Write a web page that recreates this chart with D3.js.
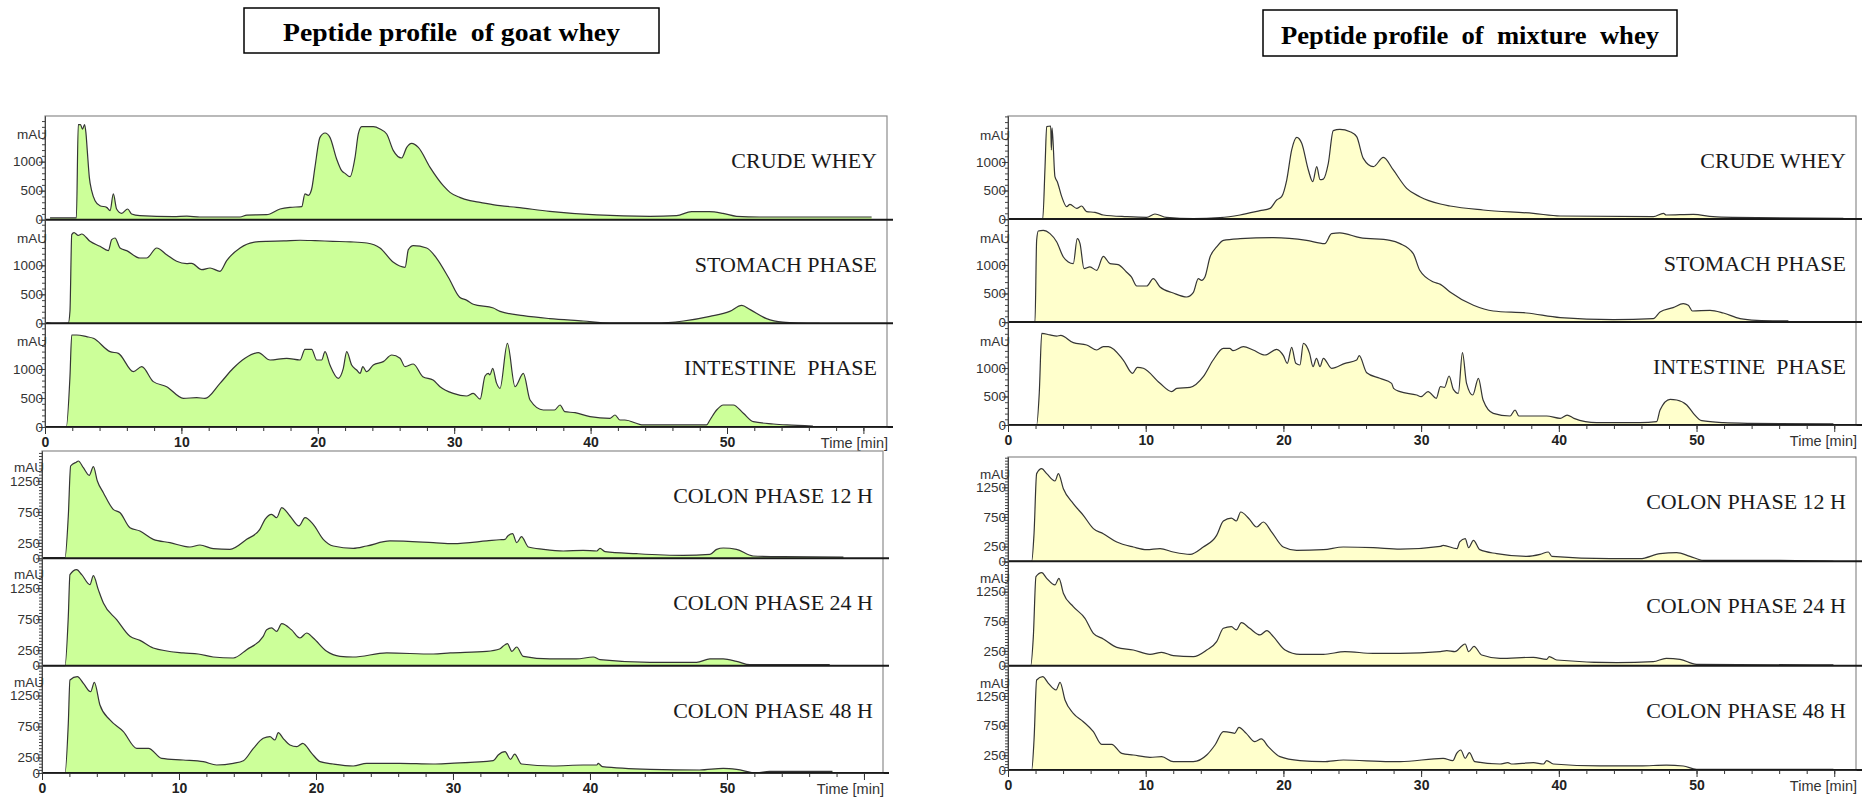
<!DOCTYPE html>
<html>
<head>
<meta charset="utf-8">
<script src="https://cdn.jsdelivr.net/npm/d3@7"></script>
<style>
body{margin:0;background:#fff}
svg{display:block}
</style>
</head>
<body>
<svg id="chart"></svg>
<script>
//titles, panel names and tick values
var titles = ["Peptide profile  of goat whey", "Peptide profile  of  mixture  whey"]
var phaseNames = ["CRUDE WHEY", "STOMACH PHASE", "INTESTINE  PHASE",
                  "COLON PHASE 12 H", "COLON PHASE 24 H", "COLON PHASE 48 H"]
var upperTicks = [0, 500, 1000]
var lowerTicks = [0, 250, 750, 1250]
var timeTicks = [0, 10, 20, 30, 40, 50]

//chromatograms, [time (min), absorbance (mAU)]
var goatCrude = [[0.37,30],[2.3,30],[2.44,1638],[2.6,1640],[2.75,1560],[2.9,1640],[3.0,1500],[3.1,1190],[3.25,730],[3.42,500],[3.67,328],[4.03,241],[4.52,212],[4.77,155],[5.01,443],[5.25,184],[5.62,109],[6.06,184],[6.35,98],[6.96,69],[9.4,52],[10.4,60],[11.36,46],[14.3,46],[14.8,80],[16.25,86],[17.23,184],[17.96,213],[18.82,224],[19.06,443],[19.31,420],[19.55,529],[19.79,902],[20.16,1419],[20.53,1494],[20.89,1419],[21.38,1046],[21.75,845],[22.0,798],[22.36,741],[22.73,1074],[22.97,1477],[23.22,1603],[24.07,1603],[24.56,1563],[25.05,1477],[25.54,1190],[26.15,1063],[26.52,1247],[26.88,1316],[27.37,1247],[28.23,902],[29.2,586],[29.69,471],[30.4,384],[31.16,328],[31.9,298],[33.36,241],[34.58,212],[37.0,143],[40.45,81],[44.36,58],[46.3,69],[47.4,138],[48.7,138],[49.7,109],[50.7,58],[52.4,46],[60.6,46]]
var goatStomach = [[0.12,12],[0.5,0],[1.71,5],[1.83,207],[1.96,1529],[2.13,1563],[2.44,1517],[2.69,1540],[3.3,1414],[4.03,1328],[4.64,1253],[4.89,1443],[5.13,1471],[5.5,1299],[5.99,1253],[6.96,1126],[7.45,1126],[8.19,1299],[8.92,1184],[9.65,1069],[10.39,1029],[10.75,1035],[11.49,926],[12.1,954],[12.83,897],[13.32,1081],[14.3,1299],[15.27,1397],[16.25,1414],[17.5,1420],[18.7,1432],[19.8,1425],[21.1,1414],[22.4,1405],[23.6,1385],[24.56,1299],[25.54,1052],[26.4,966],[26.64,1270],[27.0,1339],[27.98,1299],[28.7,1126],[29.6,781],[30.4,450],[30.9,400],[31.4,330],[32.87,264],[33.36,207],[35.07,132],[37.0,81],[39.46,40],[41.4,5],[44.7,5],[46.8,40],[48.75,121],[50.2,207],[51.08,310],[51.7,236],[52.9,81],[54.1,20],[55.35,5],[56.8,0]]
var goatIntestine = [[0.12,0],[1.56,0],[1.83,868],[1.96,1586],[2.32,1586],[3.05,1557],[3.54,1529],[4.77,1299],[5.38,1270],[6.48,954],[7.09,1040],[7.94,782],[8.92,695],[10.14,494],[11.12,506],[11.73,494],[12.83,753],[13.8,1012],[14.66,1184],[15.64,1282],[16.5,1155],[17.72,1184],[18.7,1155],[19.06,1339],[19.55,1339],[19.92,1155],[20.28,1155],[20.53,1299],[20.89,1069],[21.5,839],[21.87,1012],[22.12,1299],[22.48,1069],[22.85,983],[23.1,925],[23.3,1040],[23.58,954],[24.07,1069],[24.8,1127],[25.42,1241],[26.03,1184],[26.4,1040],[27.0,1086],[27.7,868],[28.45,810],[28.96,695],[29.93,580],[30.9,534],[31.4,580],[31.9,480],[32.26,880],[32.5,925],[32.62,900],[32.82,1011],[33.1,760],[33.36,667],[33.9,1443],[34.46,695],[35.07,925],[35.56,465],[36.53,293],[37.35,293],[37.76,379],[38.1,264],[38.86,247],[39.96,178],[41.43,150],[41.79,207],[42.15,121],[42.5,121],[43.87,35],[48.5,35],[48.75,121],[49.24,293],[49.73,379],[50.46,379],[51.2,236],[51.93,92],[53.4,52],[54.4,35],[56.3,15]]
var goatColon12 = [[0.1,10],[1.68,10],[1.92,683],[2.09,1489],[2.53,1554],[2.65,1570],[3.02,1462],[3.45,1339],[3.75,1478],[4.04,1247],[4.48,1059],[5.2,790],[5.7,736],[6.42,495],[7.15,441],[8.12,306],[9.34,253],[10.8,183],[11.53,215],[12.5,156],[13.72,145],[14.94,306],[15.9,468],[16.28,629],[16.76,710],[17.13,656],[17.5,817],[18.1,683],[18.76,522],[19.2,656],[19.8,548],[20.53,306],[21.26,199],[22.72,161],[23.7,199],[25.4,280],[28.56,253],[30.0,237],[32.46,280],[33.4,300],[33.8,306],[34.0,360],[34.35,398],[34.65,253],[35.0,349],[35.5,183],[36.6,145],[38.05,118],[39.5,129],[40.5,118],[40.73,161],[41.1,108],[43.4,75],[46.8,48],[48.76,64],[49.25,145],[49.73,167],[50.7,145],[51.9,38],[54.1,27],[58.5,21]]
var goatColon24 = [[0.1,0],[1.68,0],[1.92,795],[2.04,1468],[2.53,1548],[2.9,1468],[3.5,1306],[3.75,1452],[4.11,1226],[4.48,1011],[5.45,742],[6.42,473],[7.15,408],[8.12,285],[10.3,205],[11.4,188],[12.5,140],[13.96,124],[14.94,258],[16.15,473],[16.4,581],[16.76,608],[17.13,554],[17.5,677],[18.2,581],[18.83,446],[19.32,527],[19.8,446],[20.78,231],[21.75,151],[22.7,140],[25.16,205],[28.56,188],[29.8,205],[32.46,231],[33.4,269],[33.65,312],[33.97,355],[34.3,231],[34.65,301],[35.13,151],[37.08,108],[39.0,108],[40.24,140],[40.73,97],[44.38,54],[47.78,54],[48.76,108],[49.73,108],[50.7,70],[51.68,16],[57.5,16]]
var goatColon48 = [[0.1,0],[1.68,0],[1.92,801],[2.04,1500],[2.58,1553],[3.02,1446],[3.55,1311],[3.82,1462],[4.23,1097],[4.96,855],[5.94,667],[6.91,398],[7.77,398],[8.74,236],[10.3,210],[11.78,183],[12.75,129],[13.96,156],[14.7,199],[15.43,398],[16.15,559],[16.64,586],[17.0,532],[17.25,651],[17.6,559],[18.1,452],[18.6,425],[19.03,479],[19.69,317],[20.3,183],[21.26,145],[22.72,113],[23.7,156],[26.1,156],[28.56,145],[29.8,156],[32.94,199],[33.3,290],[33.8,344],[34.2,220],[34.5,306],[35.0,145],[37.3,113],[39.5,129],[40.5,129],[40.6,156],[40.9,102],[44.38,59],[48.0,48],[49.73,75],[50.7,59],[52.17,0],[53.1,27],[57.7,27]]

var mixCrude = [[0,0],[2.52,0],[2.69,918],[2.81,1620],[3.1,1632],[3.15,1211],[3.2,1600],[3.41,742],[3.58,655],[3.9,392],[4.26,216],[4.5,257],[4.99,187],[5.35,228],[5.71,129],[6.32,117],[6.92,70],[8.62,41],[10.06,29],[10.67,88],[11.5,29],[13.46,6],[15.4,23],[16.85,70],[18.3,146],[19.03,187],[19.51,333],[19.87,392],[20.24,684],[20.6,1211],[20.97,1433],[21.33,1328],[21.81,860],[22.13,655],[22.42,918],[22.66,690],[22.9,700],[23.26,977],[23.62,1550],[24.1,1574],[24.84,1532],[25.32,1444],[25.8,1064],[26.53,918],[27.26,1082],[27.98,860],[28.95,538],[29.9,392],[31.4,263],[32.1,228],[34.5,158],[38.15,99],[40.1,53],[46.86,41],[47.6,99],[47.8,70],[49.77,82],[51.2,41],[52.67,29],[60.66,12]]
var mixStomach = [[0,0],[1.96,0],[2.08,1433],[2.2,1597],[2.56,1608],[3.05,1550],[3.54,1404],[4.02,1140],[4.38,1053],[4.74,1024],[5.03,1462],[5.23,1375],[5.52,936],[5.95,966],[6.44,907],[6.92,1152],[7.41,1024],[8.0,1006],[8.6,877],[8.96,790],[9.35,632],[10.07,632],[10.55,760],[11.04,614],[12.0,509],[12.98,439],[13.45,514],[13.82,760],[14.06,731],[14.3,790],[14.67,1140],[15.15,1316],[15.64,1433],[16.85,1462],[19.27,1480],[21.69,1433],[23.0,1375],[23.5,1550],[24.1,1562],[25.56,1480],[27.74,1433],[28.47,1375],[29.43,1199],[29.9,907],[30.9,702],[31.4,660],[32.1,526],[33.8,293],[35.24,193],[37.67,158],[40.1,76],[43.96,41],[46.86,59],[47.35,176],[48.3,252],[49.04,322],[49.4,293],[49.7,193],[50.98,205],[51.95,158],[53.16,59],[54.37,29],[56.67,18]]
var mixIntestine = [[0,0],[2.08,0],[2.27,556],[2.45,1608],[3.05,1580],[3.54,1560],[3.83,1573],[4.74,1444],[5.71,1404],[6.44,1316],[6.92,1375],[7.29,1375],[8.37,1140],[9.05,907],[9.39,1012],[9.83,995],[11.04,731],[11.89,585],[12.25,643],[13.22,661],[14.18,848],[14.9,1140],[15.64,1345],[16.1,1345],[16.34,1304],[17.09,1375],[17.8,1316],[18.66,1228],[19.51,1328],[20.0,1216],[20.28,1082],[20.6,1363],[20.9,1082],[21.2,1053],[21.45,1433],[21.9,1257],[22.15,1024],[22.4,1170],[22.66,1024],[22.9,1170],[23.5,995],[24.47,1082],[25.32,1140],[25.5,1216],[26.05,918],[27.0,819],[27.86,731],[28.0,643],[28.47,585],[29.68,526],[30.0,497],[30.5,585],[31.1,468],[31.4,673],[31.7,661],[32.03,860],[32.34,626],[32.7,556],[33.0,1269],[33.3,731],[33.75,526],[34.16,819],[34.5,439],[35.24,205],[36.46,158],[36.82,263],[37.1,158],[39.12,158],[40.1,117],[40.6,175],[41.1,117],[42.75,41],[45.9,41],[47.1,59],[47.35,263],[48.08,450],[48.56,439],[49.29,351],[49.77,205],[50.38,76],[51.95,41],[53.9,29],[59.94,18]]
var mixColon12 = [[0,0],[1.72,0],[1.89,467],[2.08,1481],[2.45,1565],[2.81,1481],[3.41,1357],[3.66,1481],[4.02,1227],[4.74,974],[5.47,777],[6.2,552],[6.92,467],[7.9,327],[9.1,242],[10.07,197],[11.04,214],[12.0,158],[13.22,118],[14.18,242],[15.15,439],[15.64,681],[16.22,731],[16.58,681],[16.9,833],[17.5,720],[18.06,580],[18.54,664],[19.15,495],[19.99,242],[20.96,186],[22.9,197],[24.35,242],[26.53,231],[28.47,205],[31.4,253],[31.6,270],[32.6,214],[32.8,327],[33.2,383],[33.45,230],[33.8,355],[34.26,197],[35.49,130],[37.67,84],[38.64,118],[39.24,158],[39.5,84],[43.72,45],[45.9,45],[47.35,130],[48.56,146],[49.53,84],[50.5,17],[56.06,17],[59.94,0]]
var mixColon24 = [[0,0],[1.65,0],[1.84,490],[2.03,1503],[2.45,1571],[2.81,1475],[3.41,1363],[3.7,1475],[4.02,1223],[4.74,997],[5.59,800],[6.2,547],[6.92,451],[7.9,310],[9.1,265],[10.31,192],[11.16,225],[12.0,169],[13.46,152],[14.43,265],[15.15,405],[15.64,631],[16.22,659],[16.58,603],[16.95,726],[17.55,631],[18.3,519],[18.8,592],[19.27,490],[20.12,265],[21.2,192],[22.9,192],[24.47,237],[26.53,208],[28.47,208],[31.4,237],[31.86,254],[32.46,237],[32.95,333],[33.2,366],[33.45,237],[33.84,327],[34.4,180],[35.73,124],[38.15,141],[39.12,107],[39.3,152],[39.85,96],[44.2,51],[46.86,68],[47.8,124],[48.8,107],[50.0,23],[59.94,12]]
var mixColon48 = [[0,0],[1.72,0],[1.89,507],[2.08,1520],[2.52,1577],[2.93,1464],[3.49,1351],[3.78,1481],[4.14,1182],[4.74,957],[5.47,816],[6.2,647],[6.8,433],[7.53,433],[8.26,282],[9.1,253],[10.31,214],[11.16,225],[12.0,141],[13.46,141],[14.43,253],[15.03,422],[15.64,647],[16.22,631],[16.46,619],[16.77,721],[17.3,619],[17.92,479],[18.4,524],[18.9,394],[19.75,225],[21.2,158],[22.9,141],[24.35,169],[27.74,141],[28.47,141],[31.6,197],[32.3,158],[32.58,282],[32.88,338],[33.2,197],[33.5,293],[33.9,141],[35.73,101],[36.3,124],[36.55,101],[38.15,124],[38.88,101],[39.12,158],[39.6,101],[43.0,68],[45.9,68],[47.8,84],[49.04,68],[50.0,11],[59.94,11]]

var svg = d3.select("#chart")
            .attr("width", 1874)
            .attr("height", 797)

svg.append("rect")
   .attr("width", 1874)
   .attr("height", 797)
   .attr("fill", "#fff")

var sansFont = "Liberation Sans, Arial, sans-serif"
var serifFont = "Liberation Serif, Times New Roman, serif"

//boxed heading above each column
var drawTitle = function(text, box, baseline, size, len)
{
    svg.append("rect")
       .attr("x", box.x)
       .attr("y", box.y)
       .attr("width", box.w)
       .attr("height", box.h)
       .attr("fill", "#fff")
       .attr("stroke", "#000")
       .attr("stroke-width", 1.5)

    svg.append("text")
       .text(text)
       .attr("x", box.x + box.w / 2)
       .attr("y", baseline)
       .attr("text-anchor", "middle")
       .attr("font-family", serifFont)
       .attr("font-weight", "bold")
       .attr("font-size", size)
       .attr("textLength", len)
       .attr("lengthAdjust", "spacingAndGlyphs")
       .style("white-space", "pre")
       .attr("fill", "#000")
}

//one stack of three chromatograms sharing a time axis
var drawGroup = function(g)
{
    var xScale = d3.scaleLinear()
        .domain([0, g.tMax])
        .range([g.x0, g.x1])

    var panelH = (g.bottom - g.top) / 3
    var layer = svg.append("g")

    var scales = g.series.map(function(data, i)
    {
        return d3.scaleLinear()
            .domain([0, g.vMax])
            .range([g.top + (i + 1) * panelH, g.top + i * panelH])
    })

    //filled traces
    g.series.forEach(function(data, i)
    {
        var yScale = scales[i]
        var area = d3.area()
            .x(function(d) { return xScale(d[0]) })
            .y0(yScale(0))
            .y1(function(d) { return yScale(d[1]) })
            .curve(d3.curveMonotoneX)
        var line = d3.line()
            .x(function(d) { return xScale(d[0]) })
            .y(function(d) { return yScale(d[1]) })
            .curve(d3.curveMonotoneX)

        layer.append("path")
             .datum(data)
             .attr("d", area)
             .attr("fill", g.fill)

        layer.append("path")
             .datum(data)
             .attr("d", line)
             .attr("fill", "none")
             .attr("stroke", "#353535")
             .attr("stroke-width", 1.2)
             .attr("stroke-linejoin", "round")
    })

    //frame
    layer.append("rect")
         .attr("x", g.x0)
         .attr("y", g.top)
         .attr("width", g.x1 - g.x0)
         .attr("height", g.bottom - g.top)
         .attr("fill", "none")
         .attr("stroke", "#8c8c8c")
         .attr("stroke-width", 1.2)

    g.series.forEach(function(data, i)
    {
        var yScale = scales[i]

        //baseline of the panel
        layer.append("line")
             .attr("x1", g.x0)
             .attr("x2", g.x1 + 6)
             .attr("y1", yScale(0))
             .attr("y2", yScale(0))
             .attr("stroke", "#1a1a1a")
             .attr("stroke-width", 2)

        var minorAxis = d3.axisLeft(yScale)
            .tickValues(d3.range(0, g.vMax, g.minorStep))
            .tickSize(3)
            .tickSizeOuter(0)
            .tickFormat("")
        layer.append("g")
             .attr("transform", "translate(" + g.x0 + ",0)")
             .call(minorAxis)
             .call(function(s) { s.selectAll("line,path").attr("stroke", "#444") })

        var majorAxis = d3.axisLeft(yScale)
            .tickValues(g.ticks)
            .tickSize(6)
            .tickSizeOuter(0)
            .tickPadding(-4)
            .tickFormat(d3.format("d"))
        layer.append("g")
             .attr("transform", "translate(" + g.x0 + ",0)")
             .call(majorAxis)
             .call(function(s)
             {
                 s.selectAll("line,path").attr("stroke", "#444")
                 s.selectAll("text")
                  .attr("font-family", sansFont)
                  .attr("font-size", 13.5)
                  .attr("fill", "#333")
             })

        layer.append("text")
             .text("mAU")
             .attr("x", g.x0 + 2)
             .attr("y", yScale(1470))
             .attr("dy", "0.35em")
             .attr("text-anchor", "end")
             .attr("font-family", sansFont)
             .attr("font-size", 13.5)
             .attr("fill", "#333")

        layer.append("text")
             .text(g.names[i])
             .attr("x", g.x1 - 10)
             .attr("y", g.top + i * panelH + 52)
             .attr("text-anchor", "end")
             .attr("font-family", serifFont)
             .attr("font-size", 22)
             .style("white-space", "pre")
             .attr("fill", "#1a1a1a")
    })

    //time axis under the last panel
    var xMinor = d3.axisBottom(xScale)
        .tickValues(d3.range(0, 61, 2))
        .tickSize(4)
        .tickSizeOuter(0)
        .tickFormat("")
    layer.append("g")
         .attr("transform", "translate(0," + g.bottom + ")")
         .call(xMinor)
         .call(function(s) { s.selectAll("line,path").attr("stroke", "#333") })

    var xMajor = d3.axisBottom(xScale)
        .tickValues(d3.range(0, 61, 10))
        .tickSize(7)
        .tickSizeOuter(0)
        .tickPadding(3)
        .tickFormat(function(d) { return timeTicks.indexOf(d) >= 0 ? d : "" })
    layer.append("g")
         .attr("transform", "translate(0," + g.bottom + ")")
         .call(xMajor)
         .call(function(s)
         {
             s.selectAll("line,path").attr("stroke", "#333")
             s.selectAll("text")
              .attr("font-family", sansFont)
              .attr("font-size", 14)
              .attr("font-weight", "bold")
              .attr("fill", "#222")
         })

    layer.append("text")
         .text("Time [min]")
         .attr("x", g.x1 + 1)
         .attr("y", g.bottom + 21)
         .attr("text-anchor", "end")
         .attr("font-family", sansFont)
         .attr("font-size", 14.5)
         .attr("fill", "#333")
}

var goatFill = "#ccff99"
var mixFill = "#ffffcc"

var groups = [
    {x0:45, x1:887, tMax:61.73, top:116, bottom:427, vMax:1787, ticks:upperTicks, minorStep:100,
     fill:goatFill, series:[goatCrude, goatStomach, goatIntestine], names:phaseNames.slice(0, 3)},
    {x0:42, x1:883, tMax:61.39, top:451, bottom:773, vMax:1731, ticks:lowerTicks, minorStep:50,
     fill:goatFill, series:[goatColon12, goatColon24, goatColon48], names:phaseNames.slice(3)},
    {x0:1008, x1:1856, tMax:61.58, top:116, bottom:425, vMax:1807, ticks:upperTicks, minorStep:100,
     fill:mixFill, series:[mixCrude, mixStomach, mixIntestine], names:phaseNames.slice(0, 3)},
    {x0:1008, x1:1856, tMax:61.58, top:457, bottom:770, vMax:1762, ticks:lowerTicks, minorStep:50,
     fill:mixFill, series:[mixColon12, mixColon24, mixColon48], names:phaseNames.slice(3)}
]

groups.forEach(drawGroup)

drawTitle(titles[0], {x:244, y:8, w:415, h:45}, 41, 26, 337)
drawTitle(titles[1], {x:1263, y:10, w:414, h:46}, 44, 26, 378)
</script>
</body>
</html>
